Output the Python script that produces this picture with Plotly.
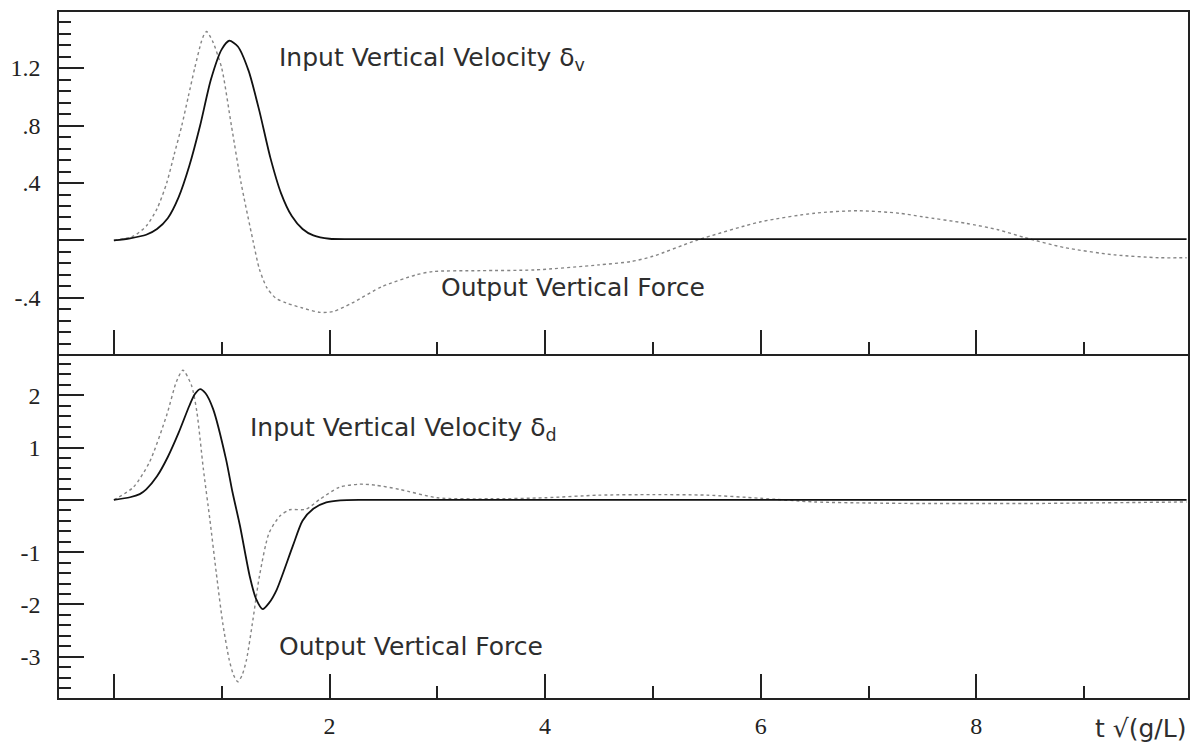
import plotly.graph_objects as go

# ---- data ----
top_in_t = [0, 0.15, 0.3, 0.4, 0.5, 0.6, 0.7, 0.8, 0.9, 1.0, 1.07, 1.15, 1.25, 1.35, 1.45, 1.55,
            1.65, 1.75, 1.85, 2.0, 2.3, 3, 4, 5, 6, 7, 8, 9, 9.95]
top_in_v = [0.0, 0.015, 0.04, 0.08, 0.155, 0.3, 0.52, 0.8, 1.12, 1.33, 1.39, 1.35, 1.18, 0.9, 0.58, 0.33,
            0.17, 0.08, 0.035, 0.012, 0.01, 0.01, 0.01, 0.01, 0.01, 0.01, 0.01, 0.01, 0.01]

top_out_t = [0, 0.18, 0.3, 0.4, 0.49, 0.56, 0.63, 0.69, 0.75, 0.81, 0.835, 0.86, 0.885, 0.92, 1.0, 1.09,
             1.18, 1.29, 1.35, 1.42, 1.5, 1.6, 1.75, 1.91, 2.03, 2.21, 2.49, 2.8, 2.96, 3.4, 3.9, 4.5,
             4.8, 5.0, 5.4, 6.0, 6.5, 6.9, 7.28, 7.5, 7.9, 8.2, 8.45, 8.82, 9.28, 9.69, 9.95]
top_out_v = [0, 0.03, 0.1, 0.22, 0.4, 0.6, 0.8, 1.0, 1.2, 1.38, 1.43, 1.454, 1.43, 1.38, 1.2, 0.8,
             0.4, 0.0, -0.2, -0.33, -0.4, -0.435, -0.47, -0.50, -0.495, -0.435, -0.32, -0.24, -0.216,
             -0.21, -0.205, -0.17, -0.146, -0.11, 0.0, 0.13, 0.19, 0.207, 0.19, 0.165, 0.12, 0.075,
             0.02, -0.05, -0.10, -0.12, -0.12]

bot_in_t = [0, 0.15, 0.24, 0.3, 0.4, 0.5, 0.6, 0.7, 0.75, 0.8, 0.85, 0.92, 1.04, 1.10, 1.17, 1.26, 1.32,
            1.38, 1.44, 1.51, 1.66, 1.75, 1.85, 1.97, 2.1, 2.3, 3, 4, 5, 6, 7, 8, 9, 9.95]
bot_in_v = [0, 0.05, 0.11, 0.2, 0.45, 0.82, 1.28, 1.8, 2.02, 2.12, 2.04, 1.74, 0.78, 0.15, -0.5, -1.46, -1.9,
            -2.09, -1.97, -1.72, -0.88, -0.40, -0.17, -0.05, -0.01, 0, 0, 0, 0, 0, 0, 0, 0, 0]

bot_out_t = [0, 0.18, 0.33, 0.49, 0.58, 0.64, 0.72, 0.77, 0.83, 0.89, 0.95, 1.01, 1.07, 1.11, 1.15, 1.19,
             1.23, 1.29, 1.35, 1.44, 1.54, 1.63, 1.78, 1.91, 2.09, 2.28, 2.43, 2.65, 3.0, 3.5, 4.0, 4.5,
             5.0, 5.5, 6.0, 6.5, 7.0, 7.5, 8.0, 8.5, 9.0, 9.5, 9.95]
bot_out_v = [0, 0.24, 0.72, 1.62, 2.26, 2.48, 2.19, 1.68, 0.59, -0.37, -1.40, -2.36, -3.06, -3.35, -3.48,
             -3.35, -3.06, -2.29, -1.46, -0.63, -0.31, -0.19, -0.18, 0.01, 0.24, 0.30, 0.28, 0.2, 0.04,
             0.02, 0.04, 0.09, 0.1, 0.09, 0.03, -0.04, -0.06, -0.07, -0.07, -0.07, -0.06, -0.05, -0.04]

x_major = [2, 4, 6, 8]
x_labels = ["2", "4", "6", "8"]
zero_tick = [0]
top_y_major = [-0.4, 0.4, 0.8, 1.2]
top_y_labels = ["-.4", ".4", ".8", "1.2"]
bot_y_major = [-3, -2, -1, 1, 2]
bot_y_labels = ["-3", "-2", "-1", "1", "2"]

# ---- figure ----
fig = go.Figure()
solid = dict(color="#111111", width=1.8, shape="spline", smoothing=0.7)
dotted = dict(color="#858585", width=1.4, dash="dot", shape="spline", smoothing=0.7)

fig.add_trace(go.Scatter(x=top_out_t, y=top_out_v, mode="lines", line=dotted, xaxis="x", yaxis="y"))
fig.add_trace(go.Scatter(x=top_in_t, y=top_in_v, mode="lines", line=solid, xaxis="x", yaxis="y"))
fig.add_trace(go.Scatter(x=bot_out_t, y=bot_out_v, mode="lines", line=dotted, xaxis="x2", yaxis="y2"))
fig.add_trace(go.Scatter(x=bot_in_t, y=bot_in_v, mode="lines", line=solid, xaxis="x2", yaxis="y2"))
# empty helper traces so the unlabeled zero-tick axes get drawn
fig.add_trace(go.Scatter(x=[], y=[], mode="lines", xaxis="x", yaxis="y3", hoverinfo="skip"))
fig.add_trace(go.Scatter(x=[], y=[], mode="lines", xaxis="x2", yaxis="y4", hoverinfo="skip"))
fig.add_trace(go.Scatter(x=[], y=[], mode="lines", xaxis="x3", yaxis="y2", hoverinfo="skip"))

axcol = "#222222"
tickfont = dict(family="Liberation Serif", size=24, color="#222222")
xr = [-0.509, 9.963]
yr_top = [-0.79, 1.59]
yr_bot = [-3.79, 2.79]
tk = dict(ticks="inside", tickwidth=1.6, tickcolor=axcol)
xminor = dict(ticks="inside", ticklen=12, tickwidth=1.6, tickcolor=axcol, dtick=1, tick0=0, showgrid=False)
xcommon = dict(range=xr, showgrid=False, zeroline=False, showline=True, linecolor=axcol, linewidth=1.6,
               ticklen=24, tickmode="array", tickfont=tickfont, fixedrange=True, **tk)
ycommon = dict(showgrid=False, zeroline=False, showline=True, linecolor=axcol, linewidth=1.6,
               mirror=True, ticklen=25, tickmode="array", tickfont=tickfont, ticklabelstandoff=12,
               fixedrange=True, **tk)
zero_ax = dict(showgrid=False, zeroline=False, showline=False, showticklabels=False, tickmode="array",
               tickvals=zero_tick, fixedrange=True, **tk)

split = 344 / 686
fig.update_layout(
    width=1197, height=751,
    margin=dict(l=59, r=7, t=12, b=53),
    paper_bgcolor="white", plot_bgcolor="white",
    showlegend=False,
    xaxis=dict(xcommon, anchor="y", mirror=True, showticklabels=False,
               tickvals=[0] + x_major, minor=xminor),
    yaxis=dict(ycommon, domain=[split, 1], range=yr_top, anchor="x",
               tickvals=top_y_major, ticktext=top_y_labels,
               minor=dict(ticks="inside", ticklen=12, tickwidth=1.6, tickcolor=axcol, dtick=0.08, tick0=0,
                          showgrid=False)),
    xaxis2=dict(xcommon, anchor="y2", mirror=False, ticklabelstandoff=5,
                tickvals=x_major, ticktext=x_labels, minor=xminor),
    yaxis2=dict(ycommon, domain=[0, split], range=yr_bot, anchor="x2",
                tickvals=bot_y_major, ticktext=bot_y_labels,
                minor=dict(ticks="inside", ticklen=12, tickwidth=1.6, tickcolor=axcol, dtick=0.2, tick0=0,
                           showgrid=False)),
    yaxis3=dict(zero_ax, overlaying="y", anchor="x", side="left", range=yr_top, ticklen=25),
    yaxis4=dict(zero_ax, overlaying="y2", anchor="x2", side="left", range=yr_bot, ticklen=25),
    xaxis3=dict(zero_ax, overlaying="x2", anchor="y2", side="bottom", range=xr, ticklen=24),
)

lab_font = dict(family="DejaVu Sans", size=25, color="#2e2e2e")
fig.add_annotation(x=1.51, y=1.26, xref="x", yref="y", xanchor="left", yanchor="middle", showarrow=False,
                   text="Input Vertical Velocity δ<sub>v</sub>", font=lab_font)
fig.add_annotation(x=3.02, y=-0.33, xref="x", yref="y", xanchor="left", yanchor="middle", showarrow=False,
                   text="Output Vertical Force", font=lab_font)
fig.add_annotation(x=1.24, y=1.36, xref="x2", yref="y2", xanchor="left", yanchor="middle", showarrow=False,
                   text="Input Vertical Velocity δ<sub>d</sub>", font=lab_font)
fig.add_annotation(x=1.51, y=-2.81, xref="x2", yref="y2", xanchor="left", yanchor="middle", showarrow=False,
                   text="Output Vertical Force", font=lab_font)
fig.add_annotation(x=1.0, y=-0.045, xref="paper", yref="paper", xanchor="right", yanchor="middle",
                   showarrow=False, text="t √(g/L)", font=lab_font)

fig.write_html("out.html", config={"displayModeBar": False},
               post_script="document.body.style.margin='0';")
